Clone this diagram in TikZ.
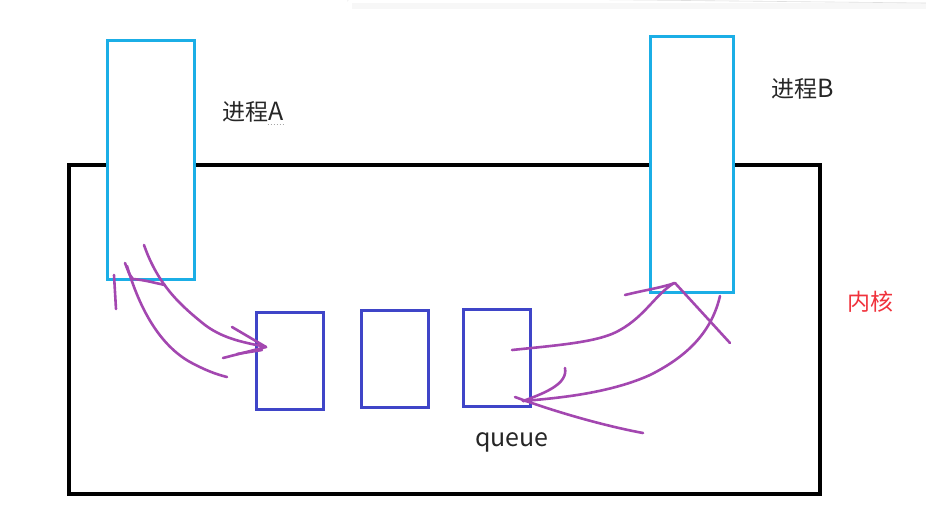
\documentclass[tikz,border=0pt]{standalone}
\usepackage{fontspec}
\newfontfamily\cjk{Noto Sans CJK SC}
\definecolor{procblue}{HTML}{1BAEE6}
\definecolor{qblue}{HTML}{3F45C8}
\definecolor{pen}{HTML}{A347B0}
\definecolor{kred}{HTML}{F0323C}
\begin{document}
\begin{tikzpicture}[x=1pt,y=-1pt,
  procbox/.style={draw=procblue,line width=3pt,inner sep=0pt},
  qbox/.style={draw=qblue,line width=3pt,inner sep=0pt,minimum width=67pt,minimum height=97pt},
  kbox/.style={draw=black,line width=3.5pt,inner sep=0pt},
  lbl/.style={font=\cjk\fontsize{23}{26}\selectfont,text=black!85,inner sep=0pt},
  ink/.style={draw=pen,line width=2.6pt,line cap=round,line join=round}]
\useasboundingbox (0,0) rectangle (926,507);
% faint panel edge at top
\fill[gray!6] (352,0) -- (926,0) -- (926,9) -- (352,9) -- cycle;
\fill[white] (350,-10) rectangle (926,3);
\draw[gray!25,line width=0.6pt] (348,-5) -- (348,0) arc[start angle=180,end angle=90,radius=3pt] -- (926,3);
% kernel
\node[kbox,minimum width=751pt,minimum height=329pt,anchor=north west] (kernel) at (67,163) {};
% processes
\node[procbox,minimum width=87pt,minimum height=239pt,anchor=north west,fill=white] (pA) at (106,39) {};
\node[procbox,minimum width=83pt,minimum height=256pt,anchor=north west,fill=white] (pB) at (649,35) {};
% queue boxes
\node[qbox,anchor=north west] (q1) at (255,311) {};
\node[qbox,anchor=north west] (q2) at (360,309) {};
\node[qbox,anchor=north west] (q3) at (462,308) {};
% labels
\node[lbl,anchor=west] (tA) at (222,112) {进程\fontsize{25}{26}\selectfont A};
\draw[gray!70,line width=1pt,dash pattern=on 1pt off 2pt] ([xshift=-16pt,yshift=-2pt]tA.south east) -- ([yshift=-2pt]tA.south east);
\node[lbl,anchor=west] (tB) at (771,89) {进程\fontsize{25}{26}\selectfont B};
\node[lbl,anchor=west,text=kred] (tK) at (847,302) {内核};
\node[lbl,anchor=center,font=\cjk\fontsize{25}{26}\selectfont] (tQ) at (512,442) {queue};
% hand-drawn strokes, process A side
\draw[ink] (114,275) -- (116,309);
\draw[ink] (125,263) .. controls (130,276) .. (133,279) .. controls (145,280) and (155,283) .. (165,285);
\draw[ink] (127,266) .. controls (140,310) and (160,345) .. (190,362) .. controls (205,370) and (215,374) .. (227,377);
\draw[ink] (144,245) .. controls (158,285) and (180,305) .. (205,325) .. controls (225,340) and (248,343) .. (266,347);
\draw[ink] (232,327) -- (266,347) -- (223,358);
\draw[ink] (237,354) -- (262,350);
% hand-drawn strokes, process B side
\draw[ink] (512,350) .. controls (560,345) and (600,342) .. (620,330) .. controls (645,316) and (655,295) .. (674,283);
\draw[ink] (625,295) .. controls (645,290) and (660,288) .. (675,283) -- (730,343);
\draw[ink] (720,296) .. controls (712,330) and (690,355) .. (650,375) .. controls (610,393) and (560,398) .. (523,401);
\draw[ink] (565,368) .. controls (568,384) and (545,393) .. (523,401);
\draw[ink] (515,397) .. controls (550,410) and (600,425) .. (643,433);
\end{tikzpicture}
\end{document}
